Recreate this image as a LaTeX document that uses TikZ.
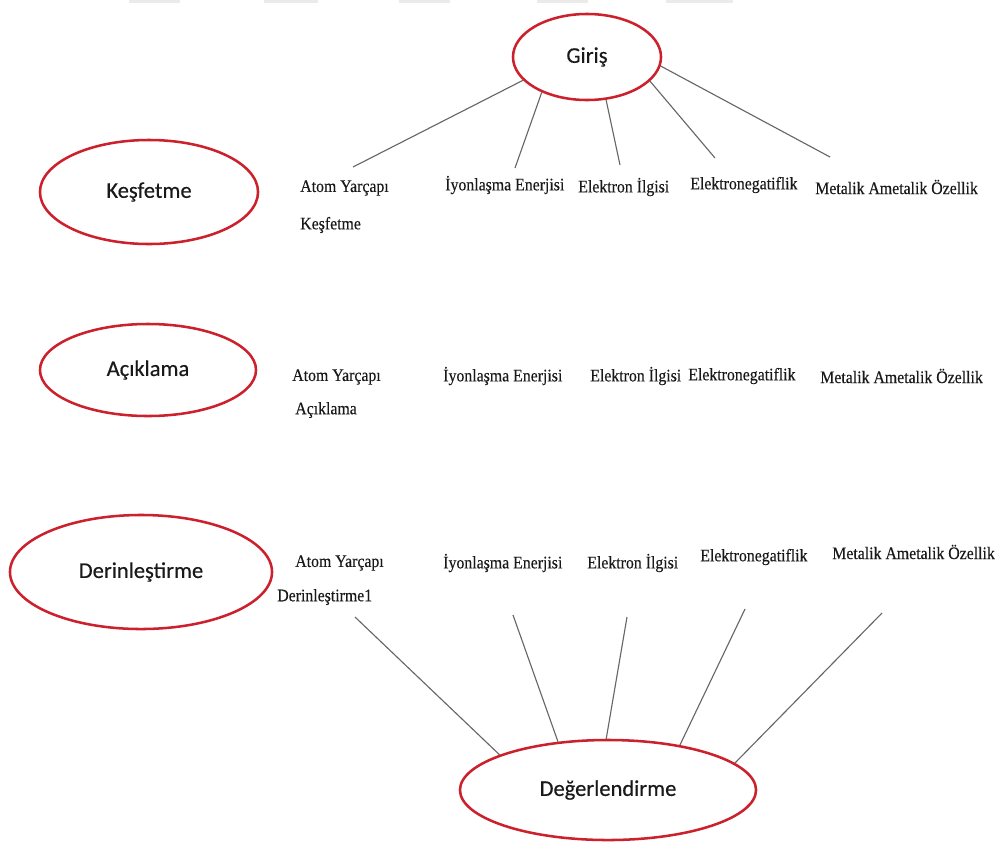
\documentclass[tikz,border=0pt]{standalone}
\usepackage{fontspec}
\setmainfont{Liberation Serif}[FakeStretch=0.9,FakeBold=0.3]
\newfontfamily\phasefont{Carlito}[FakeBold=0.4]
\usepackage{xcolor}
\usepackage{tikz}
\usetikzlibrary{
    calc,
    positioning,
    shapes.geometric
}
\definecolor{phasered}{RGB}{204,32,44}

\begin{document}
\begin{tikzpicture}[x=0.025cm,y=-0.025cm,
    phase/.style={ellipse,draw=phasered,line width=1.8pt,fill=white,inner sep=0pt,
        font=\phasefont\fontsize{16}{19}\selectfont,text=black!90},
    topic/.style={anchor=west,inner sep=0pt,font=\fontsize{12.5}{15}\selectfont,text=black!90},
    link/.style={draw=black!60,line width=0.8pt}]
\useasboundingbox (0,0) rectangle (1003,843);

% Faint bars at the top edge
\foreach \a/\b in {129/180,264/318,399/450,537/588,666/733} {
    \fill[black!8] (\a,0) rectangle (\b,3);
}

% Phases
\node[phase,minimum width=3.7cm,minimum height=2.15cm] (giris) at (587,57) {Giriş};
\node[phase,minimum width=5.45cm,minimum height=2.6cm] (kesf) at (149,192) {Keşfetme};
\node[phase,minimum width=5.4cm,minimum height=2.3cm] (acik) at (148,370) {Açıklama};
\node[phase,minimum width=6.55cm,minimum height=2.85cm] (derin) at (141,572) {Derinleştirme};
\node[phase,minimum width=7.4cm,minimum height=2.5cm] (deger) at (608,790) {Değerlendirme};

% Topics, first row
\node[topic] (ay1) at (300,188) {Atom Yarçapı};
\node[topic] (ke1) at (300,225) {Keşfetme};
\node[topic] (ie1) at (445,185) {İyonlaşma Enerjisi};
\node[topic] (ei1) at (578,187) {Elektron İlgisi};
\node[topic] (en1) at (690,185) {Elektronegatiflik};
\node[topic] (ma1) at (815,187) {Metalik Ametalik Özellik};

% Topics, second row
\node[topic] (ay2) at (292,377) {Atom Yarçapı};
\node[topic] (ac2) at (295,410) {Açıklama};
\node[topic] (ie2) at (443,376) {İyonlaşma Enerjisi};
\node[topic] (ei2) at (590,376) {Elektron İlgisi};
\node[topic] (en2) at (688,376) {Elektronegatiflik};
\node[topic] (ma2) at (820,376) {Metalik Ametalik Özellik};

% Topics, third row
\node[topic] (ay3) at (295,563) {Atom Yarçapı};
\node[topic] (de3) at (277,597) {Derinleştirme1};
\node[topic] (ie3) at (443,563) {İyonlaşma Enerjisi};
\node[topic] (ei3) at (587,563) {Elektron İlgisi};
\node[topic] (en3) at (700,557) {Elektronegatiflik};
\node[topic] (ma3) at (832,552) {Metalik Ametalik Özellik};

% Free ends of the connectors
\coordinate (g1) at (353,167);
\coordinate (g2) at (515,168);
\coordinate (g3) at (620,165);
\coordinate (g4) at (715,158);
\coordinate (g5) at (830,157);
\coordinate (d1) at (355,617);
\coordinate (d2) at (513,615);
\coordinate (d3) at (627,617);
\coordinate (d4) at (745,609);
\coordinate (d5) at (882,613);

% Connectors
\foreach \a/\c in {200/g1,218/g2,294/g3,339/g4,353/g5} {
    \draw[link] (giris.\a) -- (\c);
}
\foreach \c/\a in {d1/162,d2/136,d3/92,d4/32,d5/12} {
    \draw[link] (\c) -- (deger.\a);
}
\end{tikzpicture}
\end{document}
